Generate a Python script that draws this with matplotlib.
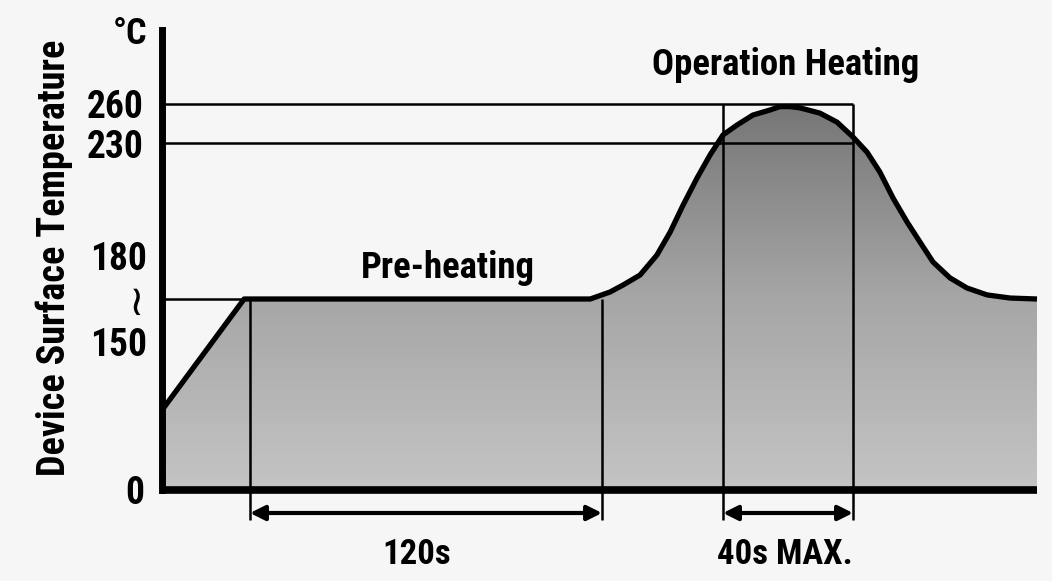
import numpy as np
import matplotlib
matplotlib.use("Agg")
import matplotlib.pyplot as plt
import matplotlib.transforms as mtransforms
from matplotlib import font_manager
from matplotlib.patches import Polygon

# ---------------- data ----------------
time_s = [0, 28, 146, 152.7, 157.1, 162.9, 168.6, 173.1, 177.5, 182.2, 186.6,
          191, 195.3, 200.2, 205.5, 208.5, 211.6, 214.7, 220.8, 226.1, 231,
          235.8, 240.2, 244.7, 249.5, 253.9, 258.4, 264.2, 270, 276.9, 284.8, 294]
temp_c = [69, 165, 165, 167.9, 170.8, 175, 183.3, 192.9, 204.2, 215.4, 225,
          236.2, 243.8, 251.5, 255.4, 258, 258, 257, 253, 246, 234.6,
          226.2, 217.9, 207.1, 197.1, 188.8, 180.4, 173.8, 169.6, 166.7, 165.4, 165]
ytick_vals = [0, 165, 230, 260]
ytick_labels = ["0", "≀", "230", "260"]
preheat_range_labels = ["180", "150"]
preheat_window = [30, 150]     # 120 s
peak_window = [191, 231]       # 40 s max
preheat_level = 165
liquidus_level = 230
peak_level = 260
window_labels = ["120s", "40s MAX."]
zone_labels = ["Pre-heating", "Operation Heating"]
unit_label = "°C"
y_label = "Device Surface Temperature"

# ---------------- schematic (non-linear) scales ----------------
T_BP = np.array([-1000, 0, 30, 150, 191, 231, 294, 1300], float)
T_PX = np.array([162 - 2930, 162, 250, 602, 723, 853, 1037, 1037 + 2.92 * 1006], float)
C_BP = np.array([-1000, 0, 165, 230, 260, 1300], float)
C_PX = np.array([-1158, 0, 191, 347, 386, 386 + 1.3 * 1040], float)

def xf(v): return np.interp(v, T_BP, T_PX)
def xi(v): return np.interp(v, T_PX, T_BP)
def yf(v): return np.interp(v, C_BP, C_PX)
def yi(v): return np.interp(v, C_PX, C_BP)

# ---------------- fonts ----------------
names = {f.name for f in font_manager.fontManager.ttflist}
FAM = ["Roboto Condensed", "DejaVu Sans"] if "Roboto Condensed" in names \
    else ["DejaVu Sans"]
FONT = dict(family=FAM, weight="bold")

W, H = 1052, 581
fig = plt.figure(figsize=(W / 100, H / 100), dpi=100)
fig.patch.set_facecolor("#f6f6f6")
ax = fig.add_axes([162 / W, 0, (1037 - 162) / W, 1])
ax.set_facecolor("none")
ax.set_xscale("function", functions=(xf, xi))
ax.set_yscale("function", functions=(yf, yi))
ax.set_xlim(0, 294)
ax.set_ylim(yi(-91), yi(490))

# gradient fill under the curve
verts = list(zip(time_s, temp_c)) + [(time_s[-1], 0), (time_s[0], 0)]
clip = Polygon(verts, closed=True, transform=ax.transData,
               facecolor="none", edgecolor="none")
ax.add_patch(clip)
grad = np.linspace(0, 1, 256).reshape(-1, 1)
cmap = matplotlib.colors.LinearSegmentedColormap.from_list(
    "g", ["#c4c4c4", "#a6a6a6", "#767676"])
im = ax.imshow(grad, cmap=cmap, aspect="auto", origin="lower",
               extent=[0, 1, 91 / 581, (91 + 386) / 581],
               transform=ax.transAxes, zorder=1)
im.set_clip_path(clip)

# reference lines
ax.hlines([peak_level, liquidus_level], 0, peak_window[1], color="black",
          lw=1.8, zorder=2)
ax.hlines(preheat_level, 0, time_s[1], color="black", lw=1.8, zorder=2)
ybot = yi(-30)
for x in preheat_window:
    ax.vlines(x, ybot, preheat_level, color="black", lw=1.8, zorder=2)
for x in peak_window:
    ax.vlines(x, ybot, peak_level, color="black", lw=1.8, zorder=2)

# curve
ax.plot(time_s, temp_c, color="black", lw=3.8, solid_joinstyle="round",
        solid_capstyle="butt", zorder=4, clip_on=False)

# axes lines
ax.spines["top"].set_visible(False)
ax.spines["right"].set_visible(False)
ax.spines["bottom"].set_visible(False)
ax.spines["left"].set_linewidth(5)
ax.spines["left"].set_bounds(0, yi(460))
ax.axhline(0, color="black", lw=5.5, zorder=5)

ax.set_xticks([])
ax.set_yticks(ytick_vals)
ax.set_yticklabels(ytick_labels, fontsize=27, **FONT)
ax.tick_params(axis="y", length=0, pad=13)
ax.minorticks_off()
for lab, v in zip(ax.get_yticklabels(), ytick_vals):
    if v == preheat_level:
        lab.set_fontsize(30)
        lab.set_weight("normal")

base = mtransforms.blended_transform_factory(ax.transAxes, ax.transData)
for txt, dy in zip(preheat_range_labels, [40, -47]):
    tr = mtransforms.offset_copy(base, fig=fig, x=0, y=dy, units="dots")
    ax.text(-15 / 875, preheat_level, txt, transform=tr, ha="right",
            va="center", fontsize=27, **FONT)

ax.text(-0.017, (581 - 34) / 581, unit_label, transform=ax.transAxes,
        ha="right", va="center", fontsize=26, **FONT)
ax.set_ylabel(y_label, fontsize=27.5, **FONT)
ax.yaxis.set_label_coords((73 - 162) / 875, (581 - 258) / 581)

# arrows
yarr = yi(-23)
for w in (preheat_window, peak_window):
    ax.annotate("", xy=(w[1], yarr), xytext=(w[0], yarr),
                arrowprops=dict(arrowstyle="<|-|>", color="black", lw=3,
                                mutation_scale=22, shrinkA=0, shrinkB=0),
                zorder=6, annotation_clip=False)

ylab = yi(-65)
ax.text(xi(417), ylab, window_labels[0], ha="center",
        va="center", fontsize=25, **FONT)
ax.text(xi(785), ylab, window_labels[1], ha="center",
        va="center", fontsize=25, **FONT)
ax.text(xi(448), yi(490 - 268), zone_labels[0], ha="center", va="center",
        fontsize=26.5, **FONT)
ax.text(xi(786), yi(490 - 65), zone_labels[1], ha="center", va="center",
        fontsize=26.5, **FONT)

fig.savefig("out.png", dpi=100, facecolor=fig.get_facecolor())
